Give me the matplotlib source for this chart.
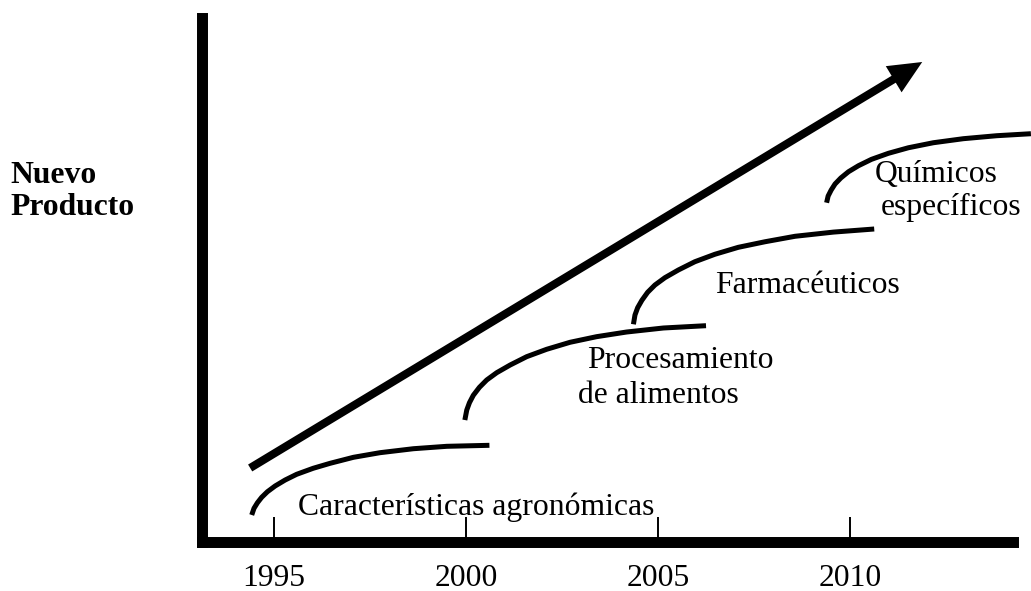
import matplotlib
matplotlib.use("Agg")
import matplotlib.pyplot as plt
from matplotlib.patches import FancyArrowPatch

plt.rcParams["font.family"] = ["Liberation Serif", "DejaVu Serif"]

# ----- data (x in years, y in arbitrary "level" units)
tick_years = [1995, 2000, 2005, 2010]
tick_labels = ["1995", "2000", "2005", "2010"]

agro_x = [1994.42, 1994.48, 1994.57, 1994.68, 1994.83, 1995.03, 1995.29, 1995.59,
          1996.02, 1996.46, 1997.07, 1997.76, 1998.63, 1999.50, 2000.61]
agro_y = [5.16, 6.44, 7.51, 8.54, 9.61, 10.70, 11.84, 12.93,
          14.08, 15.03, 16.18, 17.06, 17.82, 18.28, 18.47]

alim_x = [1999.97, 2000.02, 2000.09, 2000.19, 2000.35, 2000.54, 2000.80, 2001.15,
          2001.58, 2002.10, 2002.71, 2003.40, 2004.18, 2005.14, 2006.25]
alim_y = [23.30, 25.21, 26.61, 28.02, 29.55, 30.95, 32.34, 33.81,
          35.40, 36.81, 38.15, 39.22, 40.11, 40.88, 41.32]

farma_x = [2004.36, 2004.40, 2004.47, 2004.58, 2004.73, 2004.92, 2005.18, 2005.53,
           2005.96, 2006.48, 2007.09, 2007.79, 2008.57, 2009.57, 2010.63]
farma_y = [41.59, 43.36, 44.76, 46.17, 47.70, 49.09, 50.49, 51.96,
           53.54, 54.96, 56.29, 57.36, 58.40, 59.20, 59.79]

quim_x = [2009.39, 2009.43, 2009.51, 2009.61, 2009.76, 2009.96, 2010.22, 2010.56,
          2011.00, 2011.52, 2012.17, 2012.95, 2013.82, 2014.71]
quim_y = [64.81, 66.09, 67.24, 68.39, 69.53, 70.73, 71.88, 73.10,
          74.25, 75.31, 76.27, 77.04, 77.61, 77.99]

trend_start = (1994.38, 14.14)
trend_end = (2011.88, 91.69)

labels = ["Características agronómicas", "Procesamiento", "de alimentos",
          "Farmacéuticos", "Químicos", "específicos"]
label_pos = [(1995.62, 5.16), (2003.14, 33.18), (2002.92, 26.50),
             (2006.48, 47.51), (2010.65, 68.83), (2010.81, 62.46)]

FS = 22.8

fig = plt.figure(figsize=(10.31, 5.91), dpi=100)
ax = fig.add_axes([0.1959, 0.0829, 0.9821 - 0.1959, 0.9687 - 0.0829])
ax.set_xlim(1993.125, 2014.232)
ax.set_ylim(0, 100)

for side in ("top", "right"):
    ax.spines[side].set_visible(False)
for side in ("left", "bottom"):
    ax.spines[side].set_linewidth(7.9)
    ax.spines[side].set_capstyle("projecting")

ax.set_xticks(tick_years)
ax.set_xticklabels(tick_labels, fontsize=FS)
ax.set_yticks([])
ax.tick_params(axis="x", direction="in", length=18, width=1.4, pad=16)

for xs, ys in [(agro_x, agro_y), (alim_x, alim_y), (farma_x, farma_y), (quim_x, quim_y)]:
    ax.plot(xs, ys, color="black", lw=3.6, solid_capstyle="butt",
            solid_joinstyle="round", clip_on=False)

arrow = FancyArrowPatch(trend_start, trend_end,
                        arrowstyle="simple,head_length=24,head_width=22,tail_width=5.8",
                        mutation_scale=1, color="black", lw=0,
                        shrinkA=0, shrinkB=0)
ax.add_patch(arrow)

for txt, (x, y) in zip(labels, label_pos):
    ax.text(x, y, txt, fontsize=FS, ha="left", va="baseline")

fig.text(10 / 1031, 1 - 183 / 591, "Nuevo", fontsize=FS, fontweight="bold",
         ha="left", va="baseline")
fig.text(10 / 1031, 1 - 215 / 591, "Producto", fontsize=FS, fontweight="bold",
         ha="left", va="baseline")

fig.savefig("out.png", dpi=100)
